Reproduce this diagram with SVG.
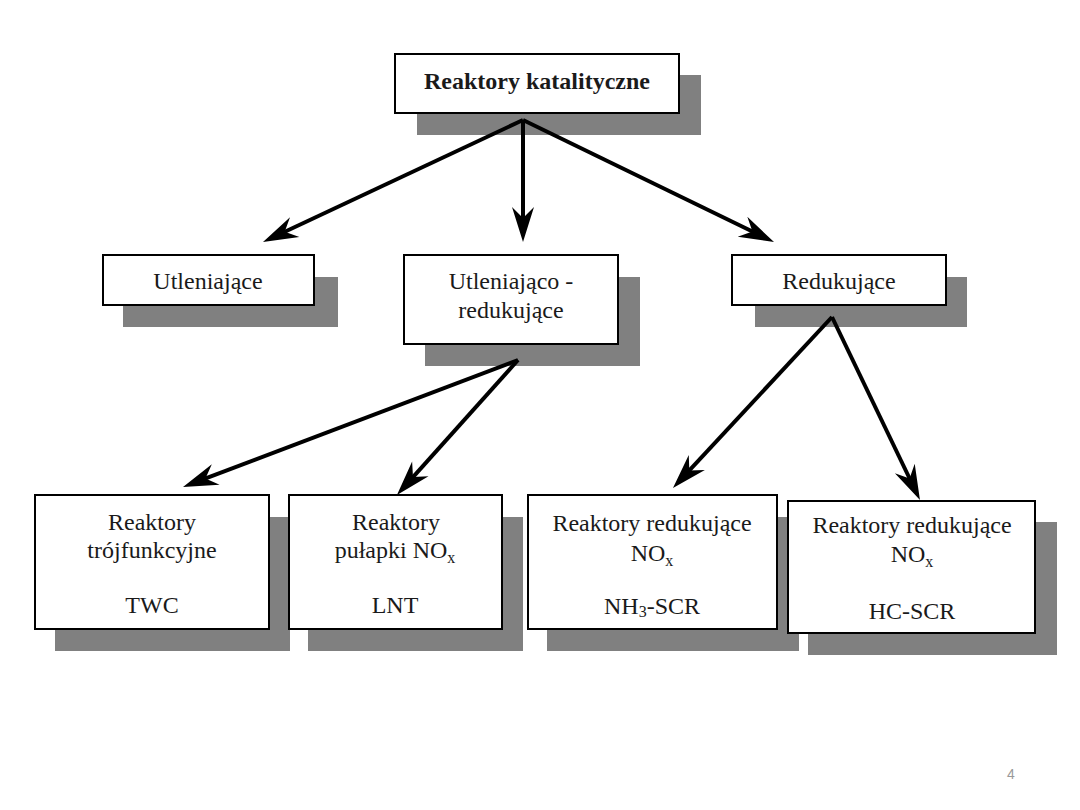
<svg xmlns="http://www.w3.org/2000/svg" width="1080" height="810" viewBox="0 0 1080 810">
<style>
  .shadow { fill: #808080; }
  .box { fill: #ffffff; stroke: #000000; stroke-width: 2; }
  .t { font-family: "Liberation Serif", "Times New Roman", serif; font-size: 24px; fill: #1a1a1a; text-anchor: middle; }
  .tb { font-weight: bold; }
  .sub { font-size: 16px; }
  .conn line { stroke: #000000; stroke-width: 4; marker-end: url(#arr); }
  .page { font-family: "Liberation Sans", Arial, sans-serif; font-size: 14px; fill: #999999; text-anchor: middle; }
</style>
<defs>
  <marker id="arr" markerUnits="userSpaceOnUse" viewBox="0 0 42 24" markerWidth="42" markerHeight="24" refX="20" refY="12" orient="auto">
    <path d="M40,12 L5,1 L16,12 L5,23 Z" fill="#000000"/>
  </marker>
</defs>
<rect width="1080" height="810" fill="#ffffff"/>

<g id="node-reaktory-katalityczne">
  <rect class="shadow" x="417" y="75" width="284" height="60"/>
  <rect class="box" x="395" y="54" width="284" height="59"/>
  <text class="t tb" x="537" y="89">Reaktory katalityczne</text>
</g>

<g id="node-utleniajace">
  <rect class="shadow" x="123" y="277" width="215" height="50"/>
  <rect class="box" x="103" y="255" width="211" height="50"/>
  <text class="t" x="208" y="289">Utleniające</text>
</g>

<g id="node-utleniajaco-redukujace">
  <rect class="shadow" x="425" y="277" width="215" height="89"/>
  <rect class="box" x="404" y="255" width="214" height="89"/>
  <text class="t" x="511" y="289">Utleniająco -</text>
  <text class="t" x="511" y="318">redukujące</text>
</g>

<g id="node-redukujace">
  <rect class="shadow" x="755" y="277" width="212" height="50"/>
  <rect class="box" x="732" y="255" width="214" height="50"/>
  <text class="t" x="839" y="289">Redukujące</text>
</g>

<g id="node-twc">
  <rect class="shadow" x="55" y="517" width="235" height="134"/>
  <rect class="box" x="35" y="495" width="234" height="134"/>
  <text class="t" x="152" y="530">Reaktory</text>
  <text class="t" x="152" y="558">trójfunkcyjne</text>
  <text class="t" x="152" y="613">TWC</text>
</g>

<g id="node-lnt">
  <rect class="shadow" x="308" y="517" width="215" height="134"/>
  <rect class="box" x="289" y="495" width="213" height="134"/>
  <text class="t" x="396" y="530">Reaktory</text>
  <text class="t" x="395" y="558">pułapki NO<tspan class="sub" dy="5">x</tspan></text>
  <text class="t" x="395" y="613">LNT</text>
</g>

<g id="node-nh3-scr">
  <rect class="shadow" x="547" y="517" width="252" height="134"/>
  <rect class="box" x="528" y="495" width="249" height="134"/>
  <text class="t" x="652" y="531">Reaktory redukujące</text>
  <text class="t" x="652" y="561">NO<tspan class="sub" dy="5">x</tspan></text>
  <text class="t" x="652" y="614">NH<tspan class="sub" dy="3">3</tspan><tspan dy="-3">-SCR</tspan></text>
</g>

<g id="node-hc-scr">
  <rect class="shadow" x="808" y="522" width="249" height="133"/>
  <rect class="box" x="788" y="501" width="247" height="132"/>
  <text class="t" x="912" y="533">Reaktory redukujące</text>
  <text class="t" x="912" y="562">NO<tspan class="sub" dy="5">x</tspan></text>
  <text class="t" x="912" y="619">HC-SCR</text>
</g>

<g id="connectors" class="conn">
  <line x1="523" y1="120" x2="281.1" y2="233.5"/>
  <line x1="523" y1="120" x2="523" y2="222"/>
  <line x1="523" y1="120" x2="756" y2="233.3"/>
  <line x1="518" y1="360" x2="201.7" y2="479.9"/>
  <line x1="518" y1="360" x2="410.3" y2="480.1"/>
  <line x1="832" y1="317" x2="686.6" y2="473.4"/>
  <line x1="832" y1="317" x2="911.3" y2="482"/>
</g>

<text class="page" x="1011" y="779">4</text>
</svg>
